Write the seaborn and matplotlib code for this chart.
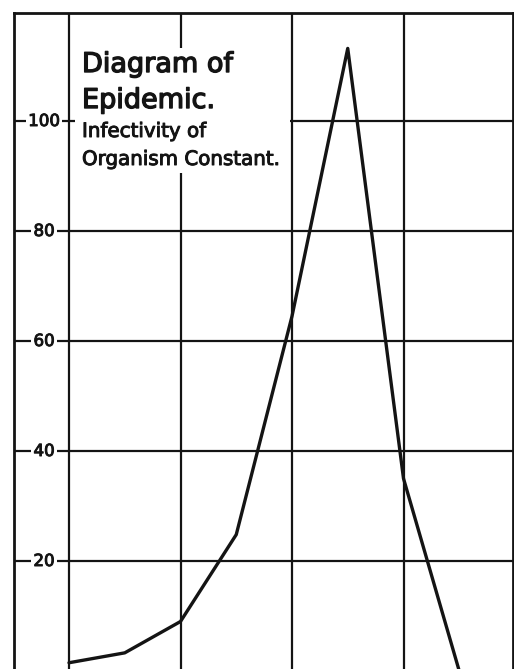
import matplotlib
matplotlib.use("Agg")
import matplotlib.pyplot as plt
import matplotlib.patheffects as pe
import seaborn as sns
import pandas as pd
from matplotlib.patches import Rectangle

# ---- data ----
periods = [0, 0.5, 1, 1.5, 2, 2.5, 3, 3.5]
cases = [1.5, 3.3, 9, 24.8, 64.5, 113.2, 35, 0]
y_ticks = [20, 40, 60, 80, 100]
x_grid = [0, 1, 2, 3]
title_lines = ["Diagram of", "Epidemic."]
subtitle_lines = ["Infectivity of", "Organism Constant."]

sns.set_style("white")
plt.rcParams["font.family"] = ["DejaVu Sans"]

W, H = 514, 669
fig = plt.figure(figsize=(W / 100, H / 100), dpi=100)
fig.patch.set_facecolor("white")

ax = fig.add_axes([14 / W, 0, (512.5 - 14) / W, 1 - 13 / H])
ax.set_facecolor("white")

unit = 111.5
x0_px = 69
ax.set_xlim((14 - x0_px) / unit, (512.5 - x0_px) / unit)
py = 5.5
ax.set_ylim((671 - 669) / py, (671 - 13) / py)

ink = "#141414"
grid_lw = 1.6

for gx in x_grid:
    ax.axvline(gx, color=ink, lw=grid_lw, zorder=1)
for gy in y_ticks:
    ax.axhline(gy, color=ink, lw=grid_lw, zorder=1)

for s in ["left", "top", "right"]:
    ax.spines[s].set_visible(True)
    ax.spines[s].set_color(ink)
    ax.spines[s].set_linewidth(2.0)
ax.spines["bottom"].set_visible(False)
ax.set_xticks([])
ax.set_yticks([])

heavy_small = [pe.withStroke(linewidth=0.7, foreground=ink)]
heavy_big = [pe.withStroke(linewidth=1.0, foreground=ink)]

for gy in y_ticks:
    ax.text((44 - x0_px) / unit, gy, str(gy), ha="center", va="center",
            fontsize=12, color=ink, zorder=3, path_effects=heavy_small,
            bbox=dict(boxstyle="square,pad=0.15", fc="white", ec="none"))

ax.add_patch(Rectangle((75 / W, 1 - 173 / H), (290 - 75) / W, (173 - 48) / H,
                       transform=fig.transFigure, facecolor="white",
                       edgecolor="none", zorder=2))

df = pd.DataFrame({"period": periods, "cases": cases})
sns.lineplot(data=df, x="period", y="cases", ax=ax, color=ink, lw=2.4,
             zorder=4, sort=False)
ax.set_xlabel("")
ax.set_ylabel("")

fig.text(82 / W, 1 - 72 / H, title_lines[0], fontsize=19.5, color=ink,
         va="baseline", ha="left", zorder=5, path_effects=heavy_big)
fig.text(82 / W, 1 - 108 / H, title_lines[1], fontsize=19.5, color=ink,
         va="baseline", ha="left", zorder=5, path_effects=heavy_big)
fig.text(82 / W, 1 - 137 / H, subtitle_lines[0], fontsize=14.3, color=ink,
         va="baseline", ha="left", zorder=5, path_effects=heavy_small)
fig.text(82 / W, 1 - 165 / H, subtitle_lines[1], fontsize=14.3, color=ink,
         va="baseline", ha="left", zorder=5, path_effects=heavy_small)

fig.savefig("out.png", dpi=100)
